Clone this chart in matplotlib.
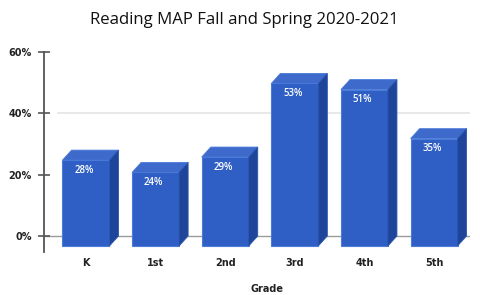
import matplotlib
matplotlib.use("Agg")
import matplotlib.pyplot as plt
from matplotlib.patches import Polygon
import numpy as np

categories = ["K", "1st", "2nd", "3rd", "4th", "5th"]
values = [28, 24, 29, 53, 51, 35]
value_labels = ["28%", "24%", "29%", "53%", "51%", "35%"]
yticks = [0, 20, 40, 60]
ytick_labels = ["0%", "20%", "40%", "60%"]
title = "Reading MAP Fall and Spring 2020-2021"
xlabel = "Grade"

W, H = 480, 295
fig = plt.figure(figsize=(W / 100, H / 100), dpi=100)
ax_l, ax_r, ax_t, ax_b = 44, 470, 52, 252
ax = fig.add_axes([ax_l / W, (H - ax_b) / H, (ax_r - ax_l) / W, (ax_b - ax_t) / H])

x = np.arange(len(categories))
width = 0.675
dxd = 0.13     # depth offset in x (data units)
dyd = 3.26     # depth offset in y (data units)

front = "#2f5fc5"
side = "#1e4599"
top = "#3d6acb"

# floor and grid lines
ax.plot([-0.6, 5.52], [0, 0], color="#9a9a9a", lw=1.0, zorder=1)
ax.plot([-0.4, 5.52], [40, 40], color="#e4e4e4", lw=1.2, zorder=1)

ax.bar(x, values, bottom=-dyd, width=width, color=front,
       edgecolor="#4a7bd9", linewidth=0.8, zorder=3)
for xi, v in zip(x, values):
    l, r = xi - width / 2, xi + width / 2
    ax.add_patch(Polygon([(l, v - dyd), (r, v - dyd), (r + dxd, v), (l + dxd, v)],
                         closed=True, facecolor=top, edgecolor="#4a7bd9", lw=0.6, zorder=3))
    ax.add_patch(Polygon([(r, -dyd), (r + dxd, 0), (r + dxd, v), (r, v - dyd)],
                         closed=True, facecolor=side, edgecolor="#2a55b0", lw=0.6, zorder=3))

for xi, v, lab in zip(x, values, value_labels):
    ax.text(xi - 0.03, v - dyd - 3.3, lab, ha="center", va="center", color="white",
            fontsize=7, fontweight="semibold", family="Open Sans", zorder=5)

ax.set_xlim(-0.603, 5.517)
ax.set_ylim(-5.22, 60)
ax.set_yticks(yticks)
ax.set_yticklabels(ytick_labels, fontsize=7, fontweight="bold", color="#222222")
ax.tick_params(axis="y", direction="inout", length=8, width=1.2, color="#555555", pad=5)
ax.set_xticks([])
for s in ["top", "right", "bottom"]:
    ax.spines[s].set_visible(False)
ax.spines["left"].set_color("#555555")
ax.spines["left"].set_linewidth(1.3)

for xi, c in zip(x, categories):
    ax.text(xi, -8.8, c, ha="center", va="center", fontsize=7, fontweight="bold",
            color="#222222", transform=ax.transData, clip_on=False)

fig.text(244 / W, 1 - 20 / H, title, ha="center", va="center", fontsize=12.1,
         family="Open Sans", color="#111111")
fig.text(267 / W, 1 - 289 / H, xlabel, ha="center", va="center", fontsize=7,
         fontweight="bold", color="#222222")

fig.savefig("out.png", dpi=100)
